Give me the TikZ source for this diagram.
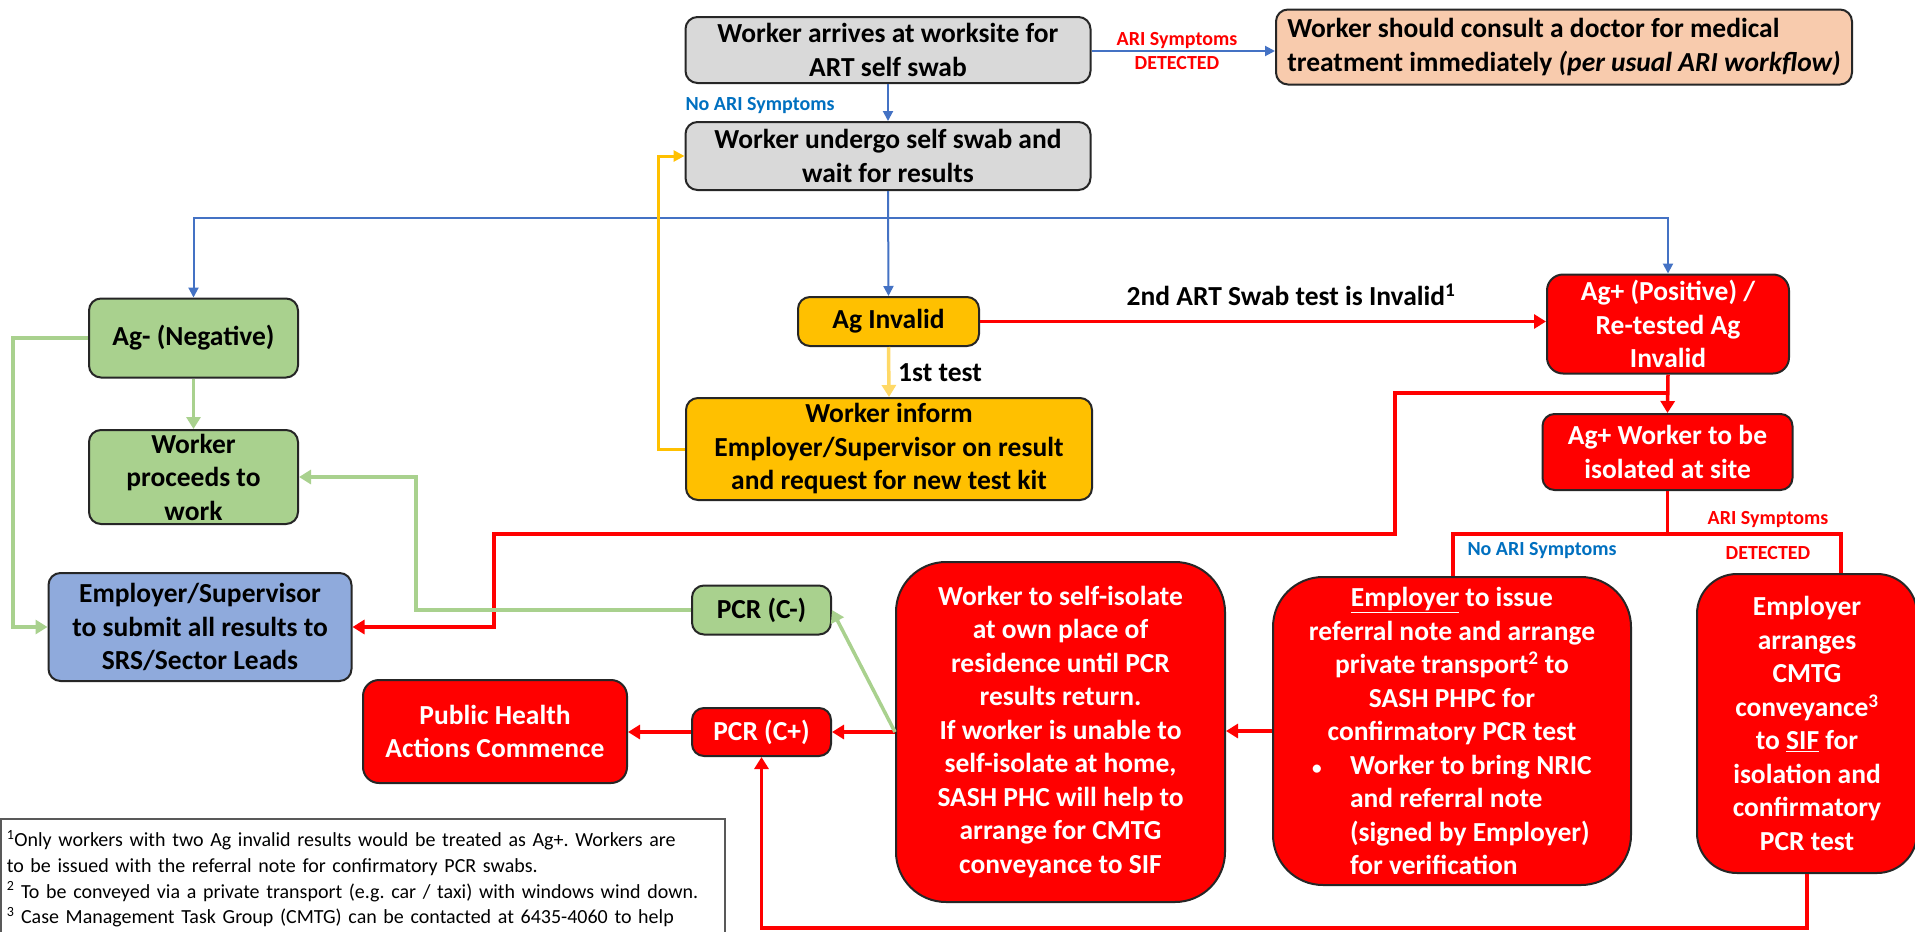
\documentclass[tikz,border=0pt]{standalone}
\usepackage{fontspec}
\setmainfont{Carlito}
\usetikzlibrary{arrows.meta}
\definecolor{boxgrey}{HTML}{D9D9D9}
\definecolor{peach}{HTML}{F8CBAD}
\definecolor{lgreen}{HTML}{A9D18E}
\definecolor{lblue}{HTML}{8FAADC}
\definecolor{amber}{HTML}{FFC000}
\definecolor{lamber}{HTML}{FFD966}
\definecolor{cblue}{HTML}{4472C4}
\definecolor{tblue}{HTML}{0070C0}
\definecolor{edge}{HTML}{262626}
\definecolor{footedge}{HTML}{595959}
\newcommand\fsup[1]{\smash{\textsuperscript{#1}}}
\tikzset{
  box/.style={draw=edge, line width=2pt, rounded corners=12pt, align=center, inner sep=0pt,
    font=\bfseries\fontsize{27.5}{33.5}\selectfont},
  greybox/.style={box, fill=boxgrey},
  redbox/.style={box, fill=red, text=white},
  bigred/.style={redbox, rounded corners=50pt},
  lbl/.style={align=center, inner sep=0pt, font=\bfseries\fontsize{20}{24}\selectfont},
  biglbl/.style={align=center, inner sep=0pt, font=\bfseries\fontsize{27.5}{33.5}\selectfont},
  blu/.style={draw=cblue, line width=2pt},
  bluarr/.style={blu, -{Triangle[length=10pt,width=10pt]}},
  redl/.style={draw=red, line width=3.5pt},
  redarr/.style={redl, -{Triangle[length=12pt,width=14pt]}},
  grnl/.style={draw=lgreen, line width=3.5pt},
  grnarr/.style={grnl, -{Triangle[length=12pt,width=14pt]}},
  yelarr/.style={draw=amber, line width=3pt, -{Triangle[length=11pt,width=11pt]}},
  lyelarr/.style={draw=lamber, line width=3.5pt, -{Triangle[length=12pt,width=14pt]}},
  footbox/.style={draw=footedge, line width=1.5pt, align=left, anchor=north west,
    inner xsep=6pt, inner ysep=14pt, text width=712pt,
    font=\fontsize{20}{25.7}\selectfont\frenchspacing},
}
\begin{document}
\begin{tikzpicture}[x=1pt,y=-1pt]
\useasboundingbox (0,0) rectangle (1915,932);
\fill[white] (0,0) rectangle (1915,932);

% nodes
\node[greybox, minimum width=405pt, minimum height=66pt] (arrives) at (888,50) {Worker arrives at worksite for\\ART self swab};
\node[box, fill=peach, minimum width=576pt, minimum height=75pt, align=left] (consult) at (1564,47)
  {Worker should consult a doctor for medical\\treatment immediately \textit{(per usual ARI workflow)}};
\node[greybox, minimum width=405pt, minimum height=68pt] (undergo) at (888,156) {Worker undergo self swab and\\wait for results};
\node[box, fill=lgreen, minimum width=209pt, minimum height=79pt] (agneg) at (193.5,338) {Ag- (Negative)};
\node[box, fill=lgreen, minimum width=209pt, minimum height=94pt] (proceeds) at (193.5,477) {Worker\\proceeds to\\work};
\node[box, fill=lblue, minimum width=303pt, minimum height=108pt] (emp) at (200,627) {Employer/Supervisor\\to submit all results to\\SRS/Sector Leads};
\node[box, fill=amber, minimum width=181pt, minimum height=49pt] (aginv) at (888.5,321.5) {Ag Invalid};
\node[box, fill=amber, minimum width=406pt, minimum height=102pt] (inform) at (889,449) {Worker inform\\Employer/Supervisor on result\\and request for new test kit};
\node[redbox, rounded corners=16pt, minimum width=242pt, minimum height=99pt] (agpos) at (1668,324) {Ag+ (Positive) /\\Re-tested Ag\\Invalid};
\node[redbox, minimum width=250pt, minimum height=76pt] (agw) at (1667.5,452) {Ag+ Worker to be\\isolated at site};
\node[bigred, minimum width=329pt, minimum height=340pt] (iso) at (1060.5,732)
  {Worker to self-isolate\\at own place of\\residence until PCR\\results return.\\If worker is unable to\\self-isolate at home,\\SASH PHC will help to\\arrange for CMTG\\conveyance to SIF};
\node[bigred, minimum width=358pt, minimum height=308pt] (issue) at (1452,731)
  {\underline{Employer} to issue\\referral note and arrange\\private transport\textsuperscript{2} to\\SASH PHPC for\\confirmatory PCR test\\
   \makebox[284pt][l]{\makebox[40pt][l]{\hspace*{2pt}\scalebox{0.7}{\textbullet}}Worker to bring NRIC}\\
   \makebox[284pt][l]{\hspace*{40pt}and referral note}\\
   \makebox[284pt][l]{\hspace*{40pt}(signed by Employer)}\\
   \makebox[284pt][l]{\hspace*{40pt}for verification}};
\node[bigred, rounded corners=40pt, minimum width=220pt, minimum height=299pt] (cmtg) at (1807,723.5)
  {Employer\\arranges\\CMTG\\conveyance\textsuperscript{3}\\to \underline{SIF} for\\isolation and\\confirmatory\\PCR test};
\node[box, fill=lgreen, minimum width=139pt, minimum height=49pt] (pcrn) at (761.5,610) {PCR (C-)};
\node[redbox, minimum width=139pt, minimum height=48pt] (pcrp) at (761.5,732) {PCR (C+)};
\node[redbox, rounded corners=16pt, minimum width=264pt, minimum height=103pt] (ph) at (495,731.5) {Public Health\\Actions Commence};
\node[footbox] (foot) at (0,818)
  {\fsup{1}Only workers with two Ag invalid results would be treated as Ag+. Workers are\\
   to be issued with the referral note for confirmatory PCR swabs.\\
   \fsup{2} To be conveyed via a private transport (e.g. car / taxi) with windows wind down.\\
   \fsup{3} Case Management Task Group (CMTG) can be contacted at 6435-4060 to help};

% labels
\node[lbl, text=red] (lari) at (1177,51) {ARI Symptoms\\DETECTED};
\node[lbl, text=tblue] (lnoari) at (760,106) {No ARI Symptoms};
\node[biglbl] (l1st) at (940,373) {1st test};
\node[biglbl] (l2nd) at (1291,295) {2nd ART Swab test is Invalid\textsuperscript{1}};
\node[lbl, text=tblue] (lnoari2) at (1542,551) {No ARI Symptoms};
\node[lbl, text=red] (lari2) at (1768,520) {ARI Symptoms};
\node[lbl, text=red] (ldet2) at (1768,553) {DETECTED};

% coordinates
\coordinate (bsplit) at (888,218);
\coordinate (gl) at (13,338);
\coordinate (yl) at (658,449);
\coordinate (r1) at (1668,393);
\coordinate (r2) at (1395,393);
\coordinate (r3) at (1395,534);
\coordinate (r4) at (494,534);
\coordinate (s) at (1667.5,534);
\coordinate (sl) at (1453,534);
\coordinate (sr) at (1841,534);
\coordinate (g2) at (416,610);
\coordinate (b1) at (1807,928);
\coordinate (b2) at (761.5,928);

% connectors
\draw[bluarr] (arrives.east |- lari) -- (consult.west |- lari);
\draw[bluarr] (arrives.south) -- (undergo.north);
\draw[bluarr] (undergo.south) -- (aginv.north);
\draw[bluarr] (bsplit) -| (agneg.north);
\draw[bluarr] (bsplit) -| (agpos.north);
\draw[grnarr] (agneg.south) -- (proceeds.north);
\draw[grnarr] (agneg.west) -- (gl) |- (emp.west);
\draw[lyelarr] (aginv.south) -- (inform.north);
\draw[yelarr] (inform.west) -- (yl) |- (undergo.west);
\draw[redarr] (aginv.east) -- (aginv.east -| agpos.west);
\draw[redarr] (agpos.south) -- (agw.north);
\draw[redarr] (r1) -- (r2) -- (r3) -- (r4) |- (emp.east);
\draw[redl] (agw.south) -- (s);
\draw[redl] (s) -- (sl) -- (sl |- issue.north);
\draw[redl] (s) -- (sr) -- (sr |- cmtg.north);
\draw[redarr] (issue.west) -- (issue.west -| iso.east);
\draw[redarr] (iso.west) -- (pcrp.east);
\draw[grnarr] (iso.west) -- (pcrn.east);
\draw[redarr] (pcrp.west) -- (pcrp.west -| ph.east);
\draw[grnarr] (pcrn.west) -- (g2) |- (proceeds.east);
\draw[redarr] (cmtg.south) -- (b1) -- (b2) -- (pcrp.south);
\end{tikzpicture}
\end{document}
